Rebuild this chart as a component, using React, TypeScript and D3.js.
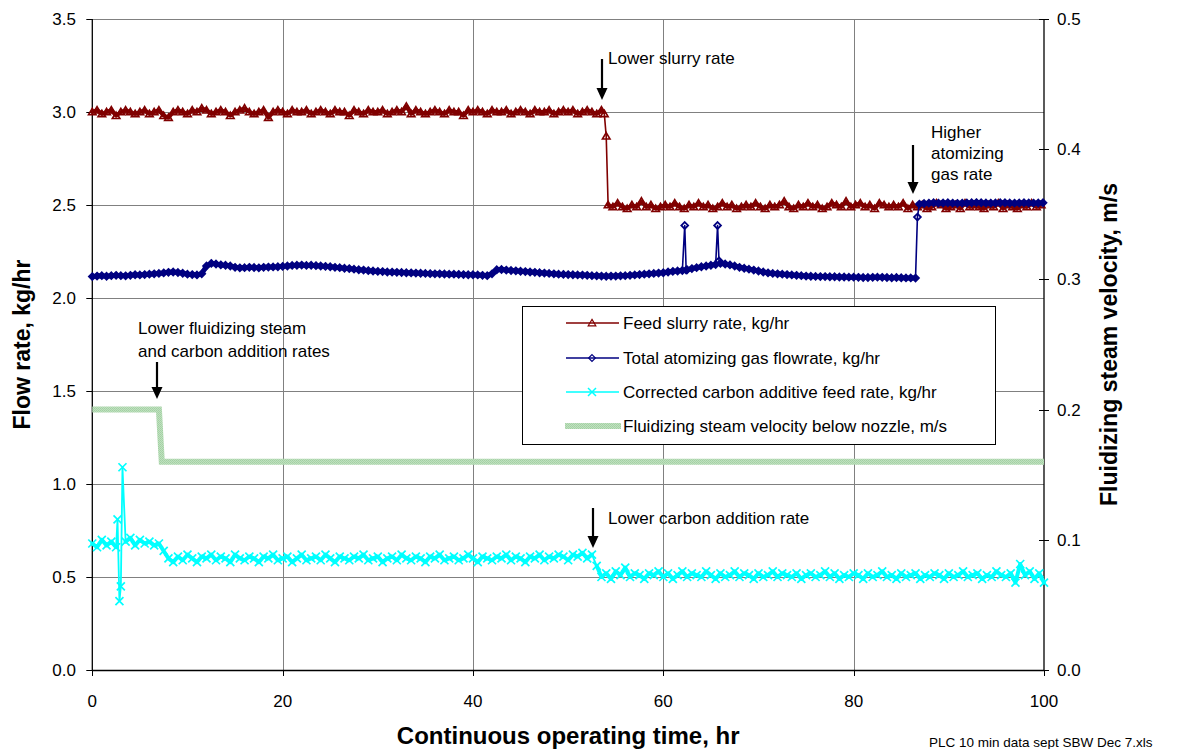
import React from "react";
import * as d3 from "d3";

// ---- Data (10-min PLC log, resampled to half-hour readings) ----
// Feed slurry rate, kg/hr: 0 h to 53.5 h, every 0.5 h
const slurryBefore = [
  3.00, 3.01, 2.99, 3.00, 3.01, 2.98, 3.00, 3.01, 3.00, 2.99,
  3.00, 3.01, 2.99, 3.00, 3.01, 2.98, 2.97, 3.00, 3.01, 3.00,
  2.99, 3.01, 3.00, 3.02, 3.01, 2.99, 3.00, 3.01, 3.00, 2.98,
  3.00, 3.01, 3.02, 3.00, 2.99, 3.00, 3.01, 2.97, 3.00, 3.01,
  3.00, 2.99, 3.01, 3.00, 3.00, 3.01, 2.99, 3.00, 3.01, 3.00,
  2.99, 3.01, 3.00, 3.00, 2.98, 3.01, 3.00, 2.99, 3.01, 3.00,
  3.00, 3.01, 2.99, 3.00, 3.01, 3.00, 3.03, 2.99, 3.01, 3.00,
  2.99, 3.00, 3.01, 3.00, 2.99, 3.01, 3.00, 3.00, 2.98, 3.01,
  3.00, 3.01, 3.00, 2.99, 3.01, 3.00, 3.00, 3.01, 2.99, 3.00,
  3.01, 3.00, 2.99, 3.01, 3.00, 3.00, 3.01, 2.99, 3.00, 3.01,
  3.00, 3.01, 2.99, 3.00, 3.01, 3.00, 2.99, 3.01,
];
// readings around the slurry rate change [hour, kg/hr]
const slurryDrop: [number, number][] = [
  [53.8, 2.99],
  [54.0, 2.87],
];
// from 54.2 h onwards, every 0.5 h
const slurryAfter = [
  2.50, 2.49, 2.51, 2.49, 2.48, 2.50, 2.49, 2.52, 2.49, 2.50,
  2.48, 2.49, 2.50, 2.49, 2.51, 2.49, 2.48, 2.50, 2.49, 2.51,
  2.49, 2.50, 2.48, 2.49, 2.51, 2.49, 2.50, 2.48, 2.49, 2.50,
  2.49, 2.51, 2.49, 2.48, 2.50, 2.49, 2.50, 2.52, 2.49, 2.48,
  2.50, 2.49, 2.51, 2.49, 2.50, 2.48, 2.49, 2.51, 2.50, 2.49,
  2.52, 2.49, 2.50, 2.51, 2.49, 2.50, 2.48, 2.51, 2.50, 2.49,
  2.50, 2.49, 2.51, 2.48, 2.50, 2.49, 2.50, 2.48, 2.49, 2.51,
  2.50, 2.48, 2.49, 2.50, 2.48, 2.51, 2.49, 2.50, 2.49, 2.48,
  2.50, 2.49, 2.51, 2.48, 2.50, 2.49, 2.48, 2.50, 2.49, 2.51,
  2.49, 2.50,
];

// Total atomizing gas flowrate, kg/hr: 0 h to 62 h, every 0.5 h
const gasA = [
  2.115, 2.118, 2.12, 2.117, 2.12, 2.122, 2.12, 2.119, 2.122, 2.125,
  2.124, 2.126, 2.128, 2.13, 2.132, 2.135, 2.138, 2.14, 2.137, 2.133,
  2.128, 2.126, 2.124, 2.13, 2.172, 2.186, 2.183, 2.178, 2.176, 2.172,
  2.165, 2.162, 2.163, 2.165, 2.164, 2.162, 2.165, 2.166, 2.167, 2.168,
  2.17, 2.172, 2.175, 2.176, 2.177, 2.175, 2.176, 2.174, 2.172, 2.17,
  2.168, 2.165, 2.163, 2.16, 2.158, 2.155, 2.152, 2.15, 2.147, 2.145,
  2.143, 2.142, 2.14, 2.139, 2.138, 2.137, 2.136, 2.135, 2.134, 2.133,
  2.132, 2.131, 2.13, 2.13, 2.129, 2.128, 2.128, 2.127, 2.126, 2.125,
  2.125, 2.124, 2.122, 2.12, 2.13, 2.152, 2.153, 2.15, 2.148, 2.146,
  2.144, 2.142, 2.14, 2.138, 2.136, 2.134, 2.132, 2.13, 2.128, 2.127,
  2.126, 2.125, 2.124, 2.123, 2.122, 2.12, 2.119, 2.118, 2.117, 2.118,
  2.118, 2.119, 2.12, 2.122, 2.124, 2.126, 2.128, 2.13, 2.132, 2.134,
  2.136, 2.14, 2.143, 2.145, 2.148,
];
const gasSpike1: [number, number][] = [
  [62.25, 2.39],
  [62.4, 2.15],
];
// 62.5 h to 65.5 h
const gasB = [2.152, 2.158, 2.163, 2.168, 2.172, 2.176, 2.18];
const gasSpike2: [number, number][] = [
  [65.7, 2.39],
  [65.85, 2.2],
];
// 66 h to 86.5 h
const gasC = [
  2.186, 2.183, 2.178, 2.172, 2.165, 2.16, 2.155, 2.15, 2.145, 2.14,
  2.135, 2.132, 2.13, 2.128, 2.126, 2.124, 2.122, 2.12, 2.118, 2.117,
  2.116, 2.115, 2.115, 2.114, 2.114, 2.113, 2.113, 2.112, 2.112, 2.111,
  2.11, 2.11, 2.111, 2.112, 2.111, 2.11, 2.109, 2.11, 2.109, 2.108,
  2.108, 2.107,
];
const gasJump: [number, number][] = [[86.7, 2.435]];
// 86.9 h to 99.9 h
const gasD = [
  2.505, 2.508, 2.51, 2.512, 2.51, 2.511, 2.512, 2.51, 2.509, 2.51,
  2.511, 2.512, 2.513, 2.512, 2.511, 2.51, 2.511, 2.512, 2.512, 2.511,
  2.51, 2.511, 2.512, 2.511, 2.51, 2.511, 2.512,
];

// Corrected carbon additive feed rate, kg/hr: 0 h to 2.5 h
const carbonA = [0.68, 0.66, 0.7, 0.67, 0.69, 0.66];
const carbonUpset: [number, number][] = [
  [2.65, 0.81],
  [2.85, 0.37],
  [3.0, 0.45],
  [3.17, 1.09],
];
// 3.5 h to 52.5 h
const carbonB = [
  0.69, 0.71, 0.67, 0.7, 0.68, 0.69, 0.67, 0.68, 0.64,
  0.6, 0.58, 0.61, 0.59, 0.62, 0.6, 0.58, 0.61, 0.6, 0.62,
  0.59, 0.61, 0.6, 0.58, 0.62, 0.6, 0.59, 0.61, 0.6, 0.58,
  0.61, 0.6, 0.62, 0.59, 0.6, 0.61, 0.58, 0.6, 0.62, 0.59,
  0.6, 0.61, 0.59, 0.62, 0.6, 0.58, 0.61, 0.6, 0.59, 0.61,
  0.6, 0.62, 0.59, 0.6, 0.61, 0.58, 0.6, 0.61, 0.59, 0.62,
  0.6, 0.59, 0.61, 0.6, 0.58, 0.61, 0.6, 0.62, 0.59, 0.6,
  0.61, 0.59, 0.6, 0.62, 0.6, 0.58, 0.61, 0.6, 0.59, 0.61,
  0.6, 0.62, 0.59, 0.61, 0.6, 0.58, 0.61, 0.6, 0.62, 0.59,
  0.61, 0.6, 0.62, 0.61, 0.59, 0.62, 0.61, 0.63, 0.6, 0.62,
];
// 53 h to 100 h
const carbonC = [
  0.56, 0.5, 0.52, 0.49, 0.53, 0.51, 0.55, 0.5, 0.52, 0.51,
  0.49, 0.52, 0.51, 0.53, 0.5, 0.52, 0.49, 0.51, 0.53, 0.5,
  0.52, 0.51, 0.5, 0.53, 0.51, 0.49, 0.52, 0.5, 0.51, 0.53,
  0.5, 0.52, 0.51, 0.49, 0.52, 0.5, 0.51, 0.53, 0.5, 0.52,
  0.51, 0.5, 0.52, 0.49, 0.51, 0.52, 0.5, 0.51, 0.53, 0.5,
  0.52, 0.49, 0.51, 0.5, 0.52, 0.51, 0.49, 0.52, 0.5, 0.51,
  0.53, 0.5, 0.51, 0.49, 0.52, 0.5, 0.51, 0.52, 0.49, 0.51,
  0.5, 0.52, 0.51, 0.49, 0.52, 0.5, 0.51, 0.53, 0.5, 0.51,
  0.52, 0.49, 0.51, 0.5, 0.53, 0.51, 0.5, 0.52, 0.47, 0.57,
  0.51, 0.53, 0.49, 0.52, 0.47,
];

// Fluidizing steam velocity below nozzle, m/s (right axis)
const steamHours = [0, 7.0, 7.3, 100];
const steamVelocity = [0.2, 0.2, 0.16, 0.16];

// Axis ticks
const xTicks = [0, 20, 40, 60, 80, 100];
const yLeftTicks = [0, 0.5, 1.0, 1.5, 2.0, 2.5, 3.0, 3.5];
const yRightTicks = [0, 0.1, 0.2, 0.3, 0.4, 0.5];

const legendLabels = [
  "Feed slurry rate, kg/hr",
  "Total atomizing gas flowrate, kg/hr",
  "Corrected carbon additive feed rate, kg/hr",
  "Fluidizing steam velocity below nozzle, m/s",
];

type Pt = [number, number];
const run = (start: number, values: number[], step = 0.5): Pt[] =>
  values.map((v, i) => [start + i * step, v]);

// steady stretches of each log (drawn as dense bands of readings)
const slurryRuns: Pt[][] = [run(0, slurryBefore), run(54.2, slurryAfter)];
const gasRuns: Pt[][] = [run(0, gasA), run(62.5, gasB), run(66, gasC), run(86.9, gasD)];
const carbonRuns: Pt[][] = [run(0, carbonA), run(3.5, carbonB), run(53, carbonC)];

const slurry: Pt[] = [...slurryRuns[0], ...slurryDrop, ...slurryRuns[1]];
const gas: Pt[] = [
  ...gasRuns[0],
  ...gasSpike1,
  ...gasRuns[1],
  ...gasSpike2,
  ...gasRuns[2],
  ...gasJump,
  ...gasRuns[3],
];
const carbon: Pt[] = [...carbonRuns[0], ...carbonUpset, ...carbonRuns[1], ...carbonRuns[2]];
const steam: Pt[] = steamHours.map((h, i) => [h, steamVelocity[i]]);

const W = 1180;
const H = 749;
const M = { left: 92.3, right: 1044, top: 19, bottom: 670 };

const FONT = "Arial, 'Liberation Sans', Helvetica, sans-serif";
const RED = "#800000";
const NAVY = "#000080";
const CYAN = "#00ffff";
const GRID = "#808080";

const triPath = "M0,-3.6L3.8,2.8L-3.8,2.8Z";
const diaPath = "M0,-3.4L3.4,0L0,3.4L-3.4,0Z";
const xPath = "M-4,-4L4,4M-4,4L4,-4";

function Arrow({ x, y1, y2 }: { x: number; y1: number; y2: number }) {
  return (
    <g>
      <line x1={x} x2={x} y1={y1} y2={y2 - 10} stroke="#000" strokeWidth={2.2} />
      <path d={`M${x - 5.5},${y2 - 12}L${x + 5.5},${y2 - 12}L${x},${y2}Z`} fill="#000" />
    </g>
  );
}

export default function App() {
  const x = d3.scaleLinear().domain([0, 100]).range([M.left, M.right]);
  const yL = d3.scaleLinear().domain([0, 3.5]).range([M.bottom, M.top]);
  const yR = d3.scaleLinear().domain([0, 0.5]).range([M.bottom, M.top]);

  const lineL = d3
    .line<Pt>()
    .x((d) => x(d[0]))
    .y((d) => yL(d[1]));
  const lineR = d3
    .line<Pt>()
    .x((d) => x(d[0]))
    .y((d) => yR(d[1]));

  const legX0 = 522.5;
  const legY0 = 306.5;
  const legW = 473;
  const legH = 138;
  const legRows = [323, 358, 392, 426];

  return (
    <div style={{ position: "absolute", left: 0, top: 0, width: W, height: H, background: "#fff" }}>
      <svg width={W} height={H} style={{ display: "block" }} fontFamily={FONT}>
        <defs>
          <pattern id="steamStipple" width={2} height={2} patternUnits="userSpaceOnUse">
            <rect width={2} height={2} fill="#bfe1bf" />
            <rect width={1} height={1} fill="#a3d0a3" />
            <rect x={1} y={1} width={1} height={1} fill="#a9d3a9" />
          </pattern>
        </defs>
        <rect width={W} height={H} fill="#fff" />

        {/* grid */}
        {yLeftTicks
          .filter((t) => t > 0)
          .map((t) => (
            <line key={`gy${t}`} x1={M.left} x2={M.right} y1={Math.round(yL(t)) + 0.5} y2={Math.round(yL(t)) + 0.5} stroke={GRID} strokeWidth={1} />
          ))}
        {xTicks
          .filter((t) => t > 0 && t < 100)
          .map((t) => (
            <line key={`gx${t}`} x1={Math.round(x(t)) + 0.5} x2={Math.round(x(t)) + 0.5} y1={M.top} y2={M.bottom} stroke={GRID} strokeWidth={1} />
          ))}

        {/* axes */}
        <line x1={M.left} x2={M.left} y1={M.top} y2={M.bottom + 0.5} stroke="#000" strokeWidth={1.3} />
        <line x1={M.left} x2={M.right} y1={M.bottom + 0.5} y2={M.bottom + 0.5} stroke="#000" strokeWidth={1.3} />
        <line x1={M.right} x2={M.right} y1={M.top} y2={M.bottom + 0.5} stroke="#000" strokeWidth={1.3} />

        {/* left ticks and labels */}
        {yLeftTicks.map((t) => (
          <g key={`yl${t}`}>
            <line x1={M.left - 6} x2={M.left} y1={Math.round(yL(t)) + 0.5} y2={Math.round(yL(t)) + 0.5} stroke="#000" />
            <text x={76} y={yL(t)} dy="0.35em" textAnchor="end" fontSize={17} fill="#000">
              {t.toFixed(1)}
            </text>
          </g>
        ))}
        {/* right ticks and labels */}
        {yRightTicks.map((t) => (
          <g key={`yr${t}`}>
            <line x1={M.right - 5} x2={M.right + 5} y1={Math.round(yR(t)) + 0.5} y2={Math.round(yR(t)) + 0.5} stroke="#000" />
            <text x={1057} y={yR(t)} dy="0.35em" textAnchor="start" fontSize={17} fill="#000">
              {t.toFixed(1)}
            </text>
          </g>
        ))}
        {/* bottom ticks and labels */}
        {xTicks.map((t) => (
          <g key={`xt${t}`}>
            <line x1={Math.round(x(t)) + 0.5} x2={Math.round(x(t)) + 0.5} y1={M.bottom} y2={M.bottom + 6} stroke="#000" />
            <text x={x(t)} y={701} dy="0.35em" textAnchor="middle" fontSize={17} fill="#000">
              {t}
            </text>
          </g>
        ))}

        {/* feed slurry */}
        {slurryRuns.map((r, i) => (
          <path key={`sr${i}`} d={lineL(r) ?? ""} fill="none" stroke={RED} strokeWidth={4} strokeLinejoin="round" strokeLinecap="round" />
        ))}
        <path d={lineL(slurry) ?? ""} fill="none" stroke={RED} strokeWidth={1.6} strokeLinejoin="round" />
        {slurry.map((d, i) => (
          <path key={`s${i}`} d={triPath} transform={`translate(${x(d[0])},${yL(d[1])})`} fill="none" stroke={RED} strokeWidth={1.6} />
        ))}

        {/* atomizing gas */}
        {gasRuns.map((r, i) => (
          <path key={`gr${i}`} d={lineL(r) ?? ""} fill="none" stroke={NAVY} strokeWidth={5} strokeLinejoin="round" strokeLinecap="round" />
        ))}
        <path d={lineL(gas) ?? ""} fill="none" stroke={NAVY} strokeWidth={1.6} strokeLinejoin="round" />
        {gas.map((d, i) => (
          <path key={`g${i}`} d={diaPath} transform={`translate(${x(d[0])},${yL(d[1])})`} fill="none" stroke={NAVY} strokeWidth={1.8} />
        ))}

        {/* carbon additive */}
        {carbonRuns.map((r, i) => (
          <path key={`cr${i}`} d={lineL(r) ?? ""} fill="none" stroke={CYAN} strokeWidth={4} strokeLinejoin="round" strokeLinecap="round" />
        ))}
        <path d={lineL(carbon) ?? ""} fill="none" stroke={CYAN} strokeWidth={1.8} strokeLinejoin="round" />
        {carbon.map((d, i) => (
          <path key={`c${i}`} d={xPath} transform={`translate(${x(d[0])},${yL(d[1])})`} fill="none" stroke={CYAN} strokeWidth={1.7} />
        ))}

        {/* fluidizing steam velocity (right axis) */}
        <path d={lineR(steam) ?? ""} fill="none" stroke="url(#steamStipple)" strokeWidth={6} />

        {/* legend */}
        <rect x={legX0} y={legY0} width={legW} height={legH} fill="#fff" stroke="#000" strokeWidth={1} />
        {legendLabels.map((label, i) => {
          const cy = legRows[i];
          const mx = 592;
          return (
            <g key={label}>
              {i < 3 && <line x1={566} x2={619} y1={cy} y2={cy} stroke={[RED, NAVY, CYAN][i]} strokeWidth={1.5} />}
              {i === 0 && <path d={triPath} transform={`translate(${mx},${cy})`} fill="none" stroke={RED} strokeWidth={1.2} />}
              {i === 1 && <path d={diaPath} transform={`translate(${mx},${cy})`} fill="none" stroke={NAVY} strokeWidth={1.2} />}
              {i === 2 && <path d={xPath} transform={`translate(${mx},${cy})`} fill="none" stroke={CYAN} strokeWidth={1.5} />}
              {i === 3 && <rect x={565} y={cy - 3} width={56} height={6} fill="url(#steamStipple)" />}
              <text x={623} y={cy} dy="0.35em" fontSize={17} fill="#000">
                {label}
              </text>
            </g>
          );
        })}

        {/* annotations */}
        <Arrow x={602} y1={59} y2={100} />
        <text x={608} y={58} dy="0.35em" fontSize={17} fill="#000">Lower slurry rate</text>

        <Arrow x={913} y1={145} y2={194} />
        <text x={931} fontSize={17} fill="#000">
          <tspan x={931} y={132} dy="0.35em">Higher</tspan>
          <tspan x={931} y={153} dy="0.35em">atomizing</tspan>
          <tspan x={931} y={174} dy="0.35em">gas rate</tspan>
        </text>

        <Arrow x={157} y1={362} y2={399} />
        <text fontSize={17} fill="#000">
          <tspan x={138} y={328} dy="0.35em">Lower fluidizing steam</tspan>
          <tspan x={138} y={351} dy="0.35em">and carbon addition rates</tspan>
        </text>

        <Arrow x={593} y1={508} y2={548} />
        <text x={608} y={518} dy="0.35em" fontSize={17} fill="#000">Lower carbon addition rate</text>

        {/* axis titles */}
        <text x={(M.left + M.right) / 2} y={744} textAnchor="middle" fontSize={24} fontWeight="bold" fill="#000">
          Continuous operating time, hr
        </text>
        <text transform={`translate(30,${(M.top + M.bottom) / 2}) rotate(-90)`} textAnchor="middle" fontSize={23} fontWeight="bold" fill="#000">
          Flow rate, kg/hr
        </text>
        <text transform={`translate(1117,${(M.top + M.bottom) / 2}) rotate(-90)`} textAnchor="middle" fontSize={23} fontWeight="bold" fill="#000">
          Fluidizing steam velocity, m/s
        </text>

        <text x={929} y={742} dy="0.35em" fontSize={13.5} fill="#000">
          PLC 10 min data sept SBW Dec 7.xls
        </text>
      </svg>
    </div>
  );
}
